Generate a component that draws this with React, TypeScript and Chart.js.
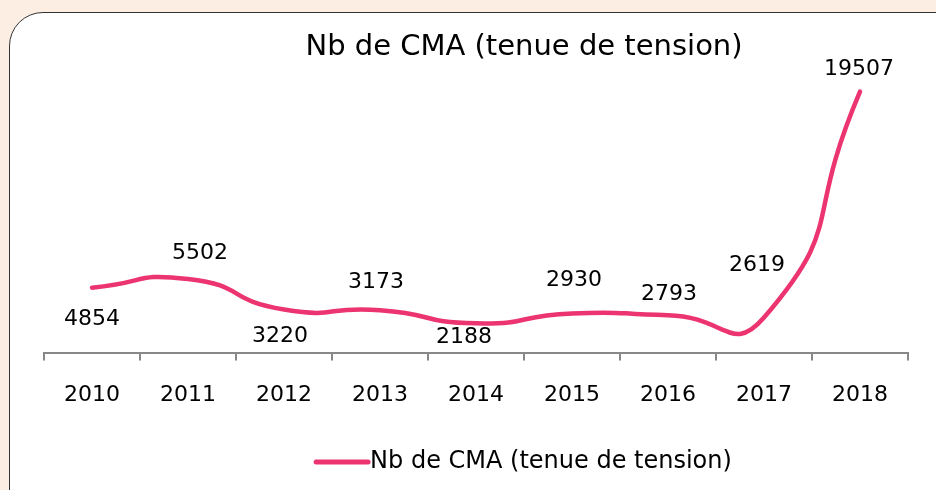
import React, { useEffect, useRef } from "react";
import { Chart, registerables } from "chart.js";

Chart.register(...registerables);

const categories = ["2010", "2011", "2012", "2013", "2014", "2015", "2016", "2017", "2018"];
const values = [4854, 5502, 3220, 3173, 2188, 2930, 2793, 2619, 19507];
const seriesName = "Nb de CMA (tenue de tension)";
const titleText = "Nb de CMA (tenue de tension)";
const yMin = 0;
const yMax = 20000;

// label offsets relative to each point (style only)
const labelOffsets: [number, number][] = [
  [0, 32], [12, -26], [-4, 27], [-4, -28], [-12, 14], [2, -33], [1, -21], [-7, -52], [-1, -22],
];

const FONT = "'DejaVu Sans', 'Noto Sans', sans-serif";
const LINE_COLOR = "#EC3471";

export default function App() {
  const ref = useRef<HTMLCanvasElement | null>(null);

  useEffect(() => {
    document.body.style.margin = "0";
    const canvas = ref.current!;
    const overlay = {
      id: "overlay",
      afterDatasetsDraw(chart: any) {
        const ctx = chart.ctx;
        const meta = chart.getDatasetMeta(0);
        ctx.save();
        ctx.fillStyle = "#000";
        ctx.textAlign = "center";
        ctx.textBaseline = "middle";
        ctx.font = `22px ${FONT}`;
        meta.data.forEach((pt: any, i: number) => {
          const [dx, dy] = labelOffsets[i];
          ctx.fillText(String(values[i]), pt.x + dx, pt.y + dy);
        });
        // title
        ctx.font = `29px ${FONT}`;
        const cx = (chart.chartArea.left + chart.chartArea.right) / 2 + 48;
        ctx.fillText(titleText, cx, 47);
        // legend
        ctx.font = `24px ${FONT}`;
        const tw = ctx.measureText(seriesName).width;
        const lineLen = 52;
        const total = lineLen + 2 + tw;
        const x0 = cx - total / 2;
        const ly = 462;
        ctx.strokeStyle = LINE_COLOR;
        ctx.lineWidth = 5;
        ctx.lineCap = "round";
        ctx.beginPath();
        ctx.moveTo(x0, ly);
        ctx.lineTo(x0 + lineLen, ly);
        ctx.stroke();
        ctx.textAlign = "left";
        ctx.fillText(seriesName, x0 + lineLen + 2, ly);
        ctx.restore();
      },
    };

    const chart = new Chart(canvas, {
      type: "line",
      data: {
        labels: categories,
        datasets: [
          {
            label: seriesName,
            data: values,
            borderColor: LINE_COLOR,
            backgroundColor: LINE_COLOR,
            borderWidth: 4.5,
            pointRadius: 0,
            tension: 0.6,
            capBezierPoints: false,
            fill: false,
            clip: false as any,
            borderCapStyle: "round",
          } as any,
        ],
      },
      options: {
        responsive: false,
        animation: false,
        layout: { padding: { left: 44, right: 28, top: 85, bottom: 61 } },
        plugins: {
          legend: { display: false },
          title: { display: false },
          tooltip: { enabled: false },
        },
        scales: {
          x: {
            type: "category",
            offset: true,
            grid: {
              display: true,
              offset: true,
              drawOnChartArea: false,
              drawTicks: true,
              tickLength: 8,
              color: "#888",
              tickColor: "#888",
              tickWidth: 2,
              lineWidth: 2,
            },
            border: { display: true, color: "#888", width: 2 },
            ticks: {
              color: "#000",
              font: { family: FONT, size: 22 },
              padding: 21,
              maxRotation: 0,
            },
          },
          y: {
            display: false,
            min: yMin,
            max: yMax,
          },
        },
      },
      plugins: [overlay],
    });
    return () => chart.destroy();
  }, []);

  return (
    <div
      style={{
        position: "fixed",
        left: 0,
        top: 0,
        width: 936,
        height: 490,
        background: "#FDEEE4",
        overflow: "hidden",
      }}
    >
      <div
        style={{
          position: "absolute",
          left: 9,
          top: 12,
          width: 960,
          height: 520,
          background: "#fff",
          border: "1.5px solid #333",
          borderTopLeftRadius: 34,
        }}
      />
      <canvas
        ref={ref}
        width={936}
        height={490}
        style={{ position: "absolute", left: 0, top: 0, width: 936, height: 490 }}
      />
    </div>
  );
}
